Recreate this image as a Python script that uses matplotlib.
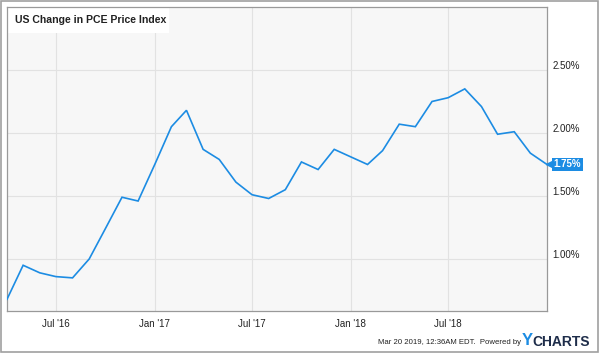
import numpy as np
import pandas as pd
import matplotlib
matplotlib.use('Agg')
import matplotlib.pyplot as plt
import matplotlib.dates as mdates
import matplotlib.transforms as mtransforms
from matplotlib.patches import Rectangle

plt.rcParams['font.family'] = ['Liberation Sans', 'DejaVu Sans']

# monthly values, Apr 2016 .. Jan 2019
months = pd.date_range('2016-04-01', '2019-01-01', freq='MS')
pce = [0.68, 0.95, 0.89, 0.86, 0.85, 1.00, 1.24, 1.49, 1.46, 1.75,
       2.05, 2.18, 1.87, 1.79, 1.61, 1.51, 1.48, 1.55, 1.77, 1.71,
       1.87, 1.81, 1.75, 1.86, 2.07, 2.05, 2.25, 2.28, 2.35, 2.21,
       1.99, 2.01, 1.84, 1.75]
y_ticks = [1.0, 1.5, 2.0, 2.5]
x_ticks = pd.to_datetime(['2016-07-01', '2017-01-01', '2017-07-01', '2018-01-01', '2018-07-01'])
x_labels = ["Jul '16", "Jan '17", "Jul '17", "Jan '18", "Jul '18"]
title = 'US Change in PCE Price Index'

blue = '#1c8ce3'

fig = plt.figure(figsize=(6, 3.53), dpi=100)
ax = fig.add_axes([7/600, 42/353, 540/600, 304/353])
ax.set_facecolor('#f7f7f7')

ax.plot(months, pce, color=blue, lw=1.2, solid_joinstyle='miter', zorder=3)

ax.set_xlim(months[0], months[-1])
ax.set_ylim(0.587, 3.0)

ax.set_yticks(y_ticks)
ax.set_yticklabels(['%.2f%%' % v for v in y_ticks])
ax.yaxis.tick_right()
ax.set_xticks(x_ticks)
ax.set_xticklabels(x_labels)
ax.tick_params(axis='both', length=0, labelsize=7, colors='#222222')
ax.tick_params(axis='x', pad=6)
ax.tick_params(axis='y', pad=4)
off = mtransforms.ScaledTranslation(0, 5/100, fig.dpi_scale_trans)
for lab in ax.get_yticklabels():
    lab.set_transform(lab.get_transform() + off)

ax.grid(True, color='#e2e2e2', lw=0.8)
ax.set_axisbelow(True)
for s in ax.spines.values():
    s.set_color('#999999')
    s.set_linewidth(0.9)

# title box
ax.add_patch(Rectangle((0.0, 0.915), 0.30, 0.085, transform=ax.transAxes,
                       facecolor='white', edgecolor='none', zorder=1.5))
ax.text(0.0148, 0.957, title, transform=ax.transAxes, fontsize=7.6,
        fontweight='bold', color='#222222', va='center', ha='left', zorder=4)

# last value tag
trans = mtransforms.blended_transform_factory(ax.transAxes, ax.transData)
last = pce[-1]
ax.plot([1.006], [last], marker='<', ms=6, color=blue, transform=trans,
        clip_on=False, zorder=5)
ax.text(1.012, last, '%.2f%%' % last, transform=trans, fontsize=7,
        fontweight='bold', color='white', va='center', ha='left',
        bbox=dict(boxstyle='square,pad=0.18', fc=blue, ec='none'), zorder=6)

# footer
fig.text(0.868, 0.030, 'Mar 20 2019, 12:36AM EDT.  Powered by', fontsize=5.6,
         color='#222222', ha='right', va='center')
fig.text(0.870, 0.034, 'Y', fontsize=12, fontweight='bold', color='#1c8ce3',
         ha='left', va='center')
fig.text(0.888, 0.032, 'CHARTS', fontsize=10, fontweight='bold', color='#1e2d4a',
         ha='left', va='center')

# outer border
fig.patches.append(Rectangle((0.002, 0.003), 0.995, 0.994, transform=fig.transFigure,
                             fill=False, edgecolor='#a0a0a0', lw=1.2))

fig.savefig('out.png', dpi=100)
